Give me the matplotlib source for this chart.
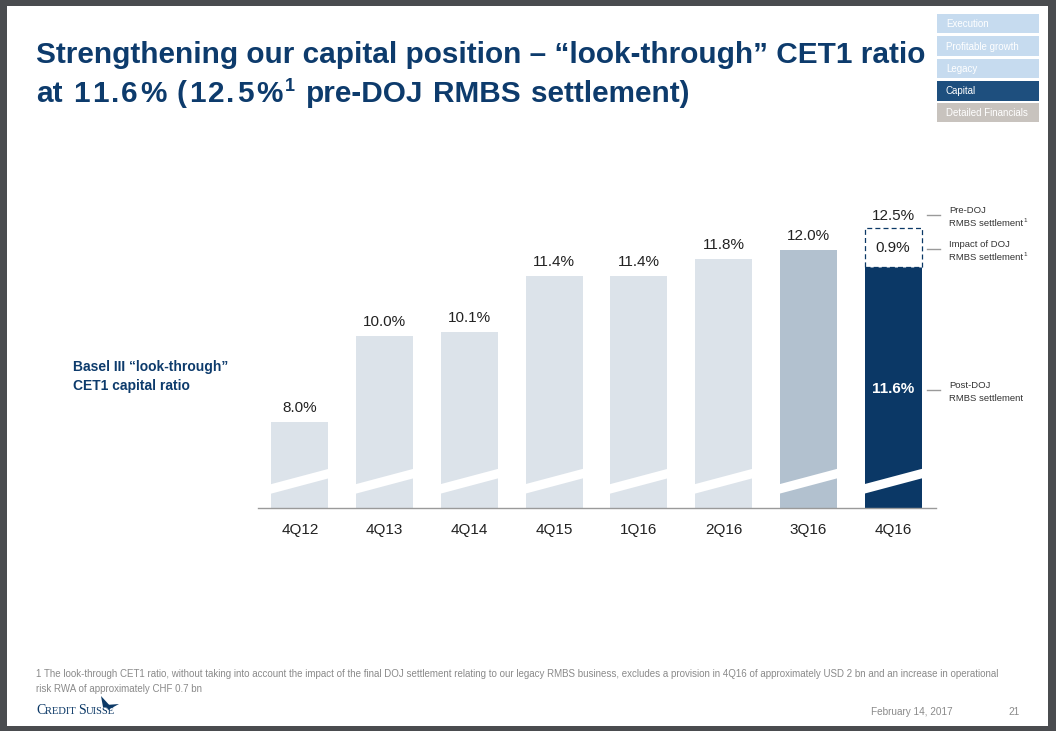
import matplotlib
matplotlib.use("Agg")
import matplotlib.pyplot as plt
from matplotlib.patches import Rectangle, Polygon
import numpy as np

# ---------------- data ----------------
categories = ["4Q12", "4Q13", "4Q14", "4Q15", "1Q16", "2Q16", "3Q16", "4Q16"]
ratios = [8.0, 10.0, 10.1, 11.4, 11.4, 11.8, 12.0, 11.6]
value_labels = ["8.0%", "10.0%", "10.1%", "11.4%", "11.4%", "11.8%", "12.0%", "11.6%"]
pre_doj = 12.5
doj_impact = 0.9
pre_doj_label = "12.5%"
impact_label = "0.9%"
nav_items = ["Execution", "Profitable growth", "Legacy", "Capital", "Detailed Financials"]

# ---------------- style ----------------
W, H = 1056, 731
FONT = "Liberation Sans"
NAVY = "#0b3866"
TITLE_C = "#0d3b6c"
LIGHT = "#dce3ea"
MID = "#b2c1cf"
GRAY_T = "#8a8a8a"

fig = plt.figure(figsize=(W / 100, H / 100), dpi=100)
fig.patch.set_facecolor("#4a4c4f")

bg = fig.add_axes([0, 0, 1, 1])
bg.set_xlim(0, W)
bg.set_ylim(H, 0)
bg.axis("off")
bg.add_patch(Rectangle((7, 6), 1048 - 7, 726 - 6, facecolor="white", edgecolor="none", zorder=0))

renderer = fig.canvas.get_renderer()


def runs(x, y, pieces, ax=bg, family=FONT):
    """pieces: list of (text, size, dy_px, weight, color)"""
    cx = x
    for txt, size, dy, weight, color in pieces:
        t = ax.text(cx, y - dy, txt, fontsize=size, fontweight=weight, color=color,
                    family=family, va="baseline", ha="left", zorder=5)
        bb = t.get_window_extent(renderer=renderer)
        cx += bb.width
    return cx


def text_width(txt, size, weight="normal", family=FONT):
    t = bg.text(0, 0, txt, fontsize=size, fontweight=weight, family=family)
    w = t.get_window_extent(renderer=renderer).width
    t.remove()
    return w


# ---------------- title ----------------
TS = 21.4
bg.text(36, 63, "Strengthening our capital position \u2013 \u201clook-through\u201d CET1 ratio",
        fontsize=TS, fontweight="bold", color=TITLE_C, family=FONT, va="baseline")

# second line: digits in the original font are wider, so track numeric words a bit
words = ["at", "11.6%", "(12.5%", "pre-DOJ", "RMBS", "settlement)"]
SUP = 13
sup_w = text_width("1", SUP, "bold") + 3
space_w = text_width("a a", TS, "bold") - 2 * text_width("a", TS, "bold")
natural = 0.0
n_track = 0
for w_ in words:
    if any(c.isdigit() for c in w_):
        natural += sum(text_width(c, TS, "bold") for c in w_)
        n_track += len(w_) - 1
    else:
        natural += text_width(w_, TS, "bold")
natural += sup_w + space_w * (len(words) - 1)
n_track += len(words) - 1
tr = (690 - 36 - natural) / n_track

cx = 36
for i, w_ in enumerate(words):
    if any(c.isdigit() for c in w_):
        for j, c in enumerate(w_):
            bg.text(cx, 102, c, fontsize=TS, fontweight="bold", color=TITLE_C, family=FONT, va="baseline")
            cx += text_width(c, TS, "bold") + (tr if j < len(w_) - 1 else 0)
        if w_.startswith("("):
            bg.text(cx + 3, 91, "1", fontsize=SUP, fontweight="bold", color=TITLE_C,
                    family=FONT, va="baseline")
            cx += sup_w
    else:
        bg.text(cx, 102, w_, fontsize=TS, fontweight="bold", color=TITLE_C, family=FONT, va="baseline")
        cx += text_width(w_, TS, "bold")
    cx += space_w + tr

# ---------------- nav boxes ----------------
nav_y = [(14, 33), (36, 56), (59, 78), (81, 101), (103, 122)]
nav_fc = ["#c6dbef", "#c6dbef", "#c6dbef", "#1e4f7e", "#c8c3be"]
for (y0, y1), name, fc in zip(nav_y, nav_items, nav_fc):
    bg.add_patch(Rectangle((937, y0), 1039 - 937, y1 - y0, facecolor=fc, edgecolor="none", zorder=1))
    bg.text(946, (y0 + y1) / 2 + 0.5, name, fontsize=7, color="white", family=FONT,
            va="center", ha="left", zorder=2)

# ---------------- bar chart ----------------
base_px = 508
top_px = 200
ppu = 43.0
ybase = 6.0
ytop = ybase + (base_px - top_px) / ppu
left_px, right_px = 257.5, 935.5
ax = fig.add_axes([left_px / W, (H - base_px) / H, (right_px - left_px) / W, (base_px - top_px) / H])
ax.set_xlim(-0.5, len(categories) - 0.5)
ax.set_ylim(ybase, ytop)
ax.patch.set_alpha(0)
for s in ["top", "right", "left"]:
    ax.spines[s].set_visible(False)
ax.spines["bottom"].set_color("#9a9a9a")
ax.spines["bottom"].set_linewidth(1.0)
ax.set_yticks([])
ax.set_xticks(range(len(categories)))
ax.set_xticklabels(categories, fontsize=11, family=FONT, color="#222222")
ax.tick_params(axis="x", length=0, pad=11)

x = np.arange(len(categories))
bw = 0.67
colors = [LIGHT] * 6 + [MID, NAVY]
ax.bar(x, np.array(ratios) - ybase, bottom=ybase, width=bw, color=colors, zorder=2)

# axis-break stripes
for xi in x:
    xl, xr = xi - bw / 2 - 0.02, xi + bw / 2 + 0.02
    yl0, yl1 = ybase + 14 / ppu, ybase + 23.5 / ppu
    yr0, yr1 = ybase + 30 / ppu, ybase + 39.5 / ppu
    ax.add_patch(Polygon([(xl, yl0), (xr, yr0), (xr, yr1), (xl, yl1)], closed=True,
                         facecolor="white", edgecolor="none", zorder=3))

# value labels
for xi, v, lab in zip(x[:-1], ratios[:-1], value_labels[:-1]):
    ax.text(xi, v + 14 / ppu, lab, ha="center", va="center", fontsize=11,
            family=FONT, color="#222222", zorder=4)

# last bar: post-DOJ label, dashed pre-DOJ box
xl = x[-1]
ax.text(xl, ratios[-1] - 122 / ppu, value_labels[-1], ha="center", va="center", fontsize=11,
        fontweight="bold", family=FONT, color="white", zorder=4)
ax.add_patch(Rectangle((xl - bw / 2, ratios[-1]), bw, doj_impact, facecolor="white",
                       edgecolor=NAVY, linestyle=(0, (4, 2.5)), linewidth=0.9, zorder=2))
ax.text(xl, ratios[-1] + doj_impact / 2, impact_label, ha="center", va="center", fontsize=11,
        family=FONT, color="#222222", zorder=4)
ax.text(xl, pre_doj + 12 / ppu, pre_doj_label, ha="center", va="center", fontsize=11,
        family=FONT, color="#222222", zorder=4)

# ---------------- right annotations ----------------
ann = [
    (215, ["Pre-DOJ", "RMBS settlement"], True),
    (249, ["Impact of DOJ", "RMBS settlement"], True),
    (390, ["Post-DOJ", "RMBS settlement"], False),
]
for yt, lines, sup in ann:
    bg.plot([927, 940], [yt, yt], color="#9a9a9a", lw=1, zorder=3)
    runs(949, yt - 2, [(lines[0], 6.8, 0, "normal", "#333333")])
    pieces = [(lines[1], 6.8, 0, "normal", "#333333")]
    if sup:
        pieces.append(("1", 4.5, 3.5, "normal", "#333333"))
    runs(949, yt + 11, pieces)

# ---------------- left label ----------------
bg.text(73, 367, "Basel III \u201clook-through\u201d", fontsize=10, fontweight="bold",
        color=TITLE_C, family=FONT, va="center")
bg.text(73, 386, "CET1 capital ratio", fontsize=10, fontweight="bold",
        color=TITLE_C, family=FONT, va="center")

# ---------------- footer ----------------
bg.text(36, 674, "1 The look-through CET1 ratio, without taking into account the impact of the final DOJ "
        "settlement relating to our legacy RMBS business, excludes a provision in 4Q16 of approximately "
        "USD 2 bn and an increase in operational", fontsize=7.05, color=GRAY_T, family=FONT, va="center")
bg.text(36, 689, "risk RWA of approximately CHF 0.7 bn", fontsize=7.05, color=GRAY_T, family=FONT, va="center")

runs(36, 714, [("C", 10, 0, "normal", NAVY), ("REDIT ", 7.6, 0, "normal", NAVY),
               ("S", 10, 0, "normal", NAVY), ("UISSE", 7.6, 0, "normal", NAVY)],
     family="Liberation Serif")
bg.add_patch(Polygon([(101, 696), (112, 708), (103, 707)], closed=True, facecolor=NAVY, edgecolor="none"))
bg.add_patch(Polygon([(106, 705), (119, 704), (108, 710)], closed=True, facecolor=NAVY, edgecolor="none"))

bg.text(871, 712, "February 14, 2017", fontsize=7.2, color=GRAY_T, family=FONT, va="center")
bg.text(1008, 712, "21", fontsize=7.2, color=GRAY_T, family=FONT, va="center")

fig.savefig("out.png", dpi=100, facecolor=fig.get_facecolor())
